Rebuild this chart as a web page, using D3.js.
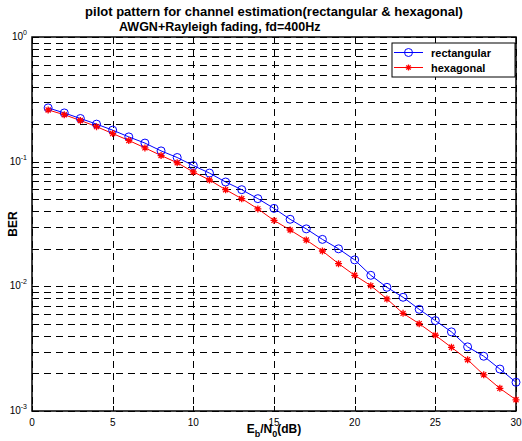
<!DOCTYPE html>
<html>
<head>
<meta charset="utf-8">
<script src="https://cdn.jsdelivr.net/npm/d3@7"></script>
<style>
  body { margin: 0; background: #fff; }
  text { font-family: Arial, "Liberation Sans", sans-serif; }
</style>
</head>
<body>
<script>
// Eb/N0 in dB
var ebno = [1, 2, 3, 4, 5, 6, 7, 8, 9, 10, 11, 12, 13, 14, 15,
  16, 17, 18, 19, 20, 21, 22, 23, 24, 25, 26, 27, 28, 29, 30]
var rectBER = [0.270, 0.246, 0.222, 0.200, 0.179, 0.158, 0.141, 0.122, 0.108, 0.093,
  0.081, 0.0687, 0.0596, 0.0505, 0.0422, 0.0345, 0.0289, 0.0238, 0.0200, 0.0163,
  0.01226, 0.00982, 0.00817, 0.00654, 0.00531, 0.00431, 0.00327, 0.00275, 0.00217, 0.00170]
var hexBER = [0.260, 0.238, 0.214, 0.191, 0.168, 0.148, 0.129, 0.112, 0.098, 0.0827,
  0.0713, 0.0596, 0.0505, 0.0418, 0.0338, 0.0283, 0.0235, 0.0192, 0.0152, 0.01226,
  0.01013, 0.00792, 0.00607, 0.00502, 0.00405, 0.00324, 0.00258, 0.00195, 0.00152, 0.00123]
var xTicks = [0, 5, 10, 15, 20, 25, 30]
var yExps = [0, -1, -2, -3]
var seriesNames = ['rectangular', 'hexagonal']

var W = 522, H = 441
var margin = { top: 37, right: 6, bottom: 30, left: 32 }
var width = W - margin.left - margin.right,
  height = H - margin.top - margin.bottom

var svg = d3.select('body').append('svg')
  .attr('width', W)
  .attr('height', H)
svg.append('rect').attr('width', W).attr('height', H).attr('fill', '#fff')

var g = svg.append('g')
  .attr('transform', 'translate(' + margin.left + ',' + margin.top + ')')

var x = d3.scaleLinear().domain([0, 30]).range([0, width])
var y = d3.scaleLog().domain([1e-3, 1]).range([height, 0])

// grid - dashed, at every log tick
var yGrid = y.ticks()
g.selectAll('.hgrid').data(yGrid).enter().append('line')
  .attr('x1', 0).attr('x2', width)
  .attr('y1', function (d) { return Math.round(y(d)) + 0.5 })
  .attr('y2', function (d) { return Math.round(y(d)) + 0.5 })
  .attr('stroke', '#000')
  .attr('stroke-dasharray', '7,5')
g.selectAll('.vgrid').data(xTicks).enter().append('line')
  .attr('y1', 0).attr('y2', height)
  .attr('x1', function (d) { return Math.round(x(d)) + 0.5 })
  .attr('x2', function (d) { return Math.round(x(d)) + 0.5 })
  .attr('stroke', '#000')
  .attr('stroke-dasharray', '7,5')

// inside tick marks
g.selectAll('.ytk').data(yGrid).enter().append('path')
  .attr('d', function (d) {
    var yy = Math.round(y(d)) + 0.5
    return 'M0,' + yy + 'h5M' + width + ',' + yy + 'h-5'
  })
  .attr('stroke', '#000')
g.selectAll('.xtk').data(xTicks).enter().append('path')
  .attr('d', function (d) {
    var xx = Math.round(x(d)) + 0.5
    return 'M' + xx + ',0v5M' + xx + ',' + height + 'v-5'
  })
  .attr('stroke', '#000')

// frame
g.append('rect')
  .attr('x', 0).attr('y', 0)
  .attr('width', width).attr('height', height)
  .attr('fill', 'none')
  .attr('stroke', '#000')
  .attr('stroke-width', 1.5)

// x tick labels
g.selectAll('.xl').data(xTicks).enter().append('text')
  .attr('x', function (d) { return x(d) })
  .attr('y', height + 15)
  .attr('text-anchor', 'middle')
  .attr('font-size', 10)
  .text(function (d) { return d })

// y tick labels 10^n
var yl = g.selectAll('.yl').data(yExps).enter().append('text')
  .attr('x', -5)
  .attr('y', function (d) { return y(Math.pow(10, d)) + 3 })
  .attr('text-anchor', 'end')
  .attr('font-size', 10)
yl.append('tspan').text('10')
yl.append('tspan')
  .attr('dy', -5)
  .attr('font-size', 7)
  .text(function (d) { return d })

// lines
var line = d3.line()
  .x(function (d) { return x(d[0]) })
  .y(function (d) { return y(d[1]) })

var rectPts = ebno.map(function (e, i) { return [e, rectBER[i]] })
var hexPts = ebno.map(function (e, i) { return [e, hexBER[i]] })

function star(cx, cy, r) {
  var d = 'M' + (cx - r) + ',' + cy + 'h' + (2 * r) +
    'M' + cx + ',' + (cy - r) + 'v' + (2 * r)
  var k = r * 0.72
  d += 'M' + (cx - k) + ',' + (cy - k) + 'l' + (2 * k) + ',' + (2 * k)
  d += 'M' + (cx - k) + ',' + (cy + k) + 'l' + (2 * k) + ',' + (-2 * k)
  return d
}

g.append('path')
  .attr('d', line(rectPts))
  .attr('fill', 'none')
  .attr('stroke', '#0000ff')
g.append('path')
  .attr('d', line(hexPts))
  .attr('fill', 'none')
  .attr('stroke', '#ff0000')

g.selectAll('.rm').data(rectPts).enter().append('circle')
  .attr('cx', function (d) { return x(d[0]) })
  .attr('cy', function (d) { return y(d[1]) })
  .attr('r', 4)
  .attr('fill', 'none')
  .attr('stroke', '#0000ff')
g.selectAll('.hm').data(hexPts).enter().append('path')
  .attr('d', function (d) { return star(x(d[0]), y(d[1]), 3.5) })
  .attr('stroke', '#ff0000')
  .attr('stroke-width', 1.3)

// titles
svg.append('text')
  .attr('x', margin.left + width / 2)
  .attr('y', 16)
  .attr('text-anchor', 'middle')
  .attr('font-size', 13)
  .attr('font-weight', 'bold')
  .text('pilot pattern for channel estimation(rectangular & hexagonal)')
svg.append('text')
  .attr('x', 119)
  .attr('y', 31)
  .attr('font-size', 12.5)
  .attr('font-weight', 'bold')
  .text('AWGN+Rayleigh fading, fd=400Hz')

// x label
var xlab = svg.append('text')
  .attr('x', margin.left + width / 2)
  .attr('y', 433)
  .attr('text-anchor', 'middle')
  .attr('font-size', 12)
  .attr('font-weight', 'bold')
xlab.append('tspan').text('E')
xlab.append('tspan').attr('dy', 4).attr('font-size', 9).text('b')
xlab.append('tspan').attr('dy', -4).text('/N')
xlab.append('tspan').attr('dy', 4).attr('font-size', 9).text('0')
xlab.append('tspan').attr('dy', -4).text('(dB)')

// y label
svg.append('text')
  .attr('transform', 'translate(17,' + (margin.top + height / 2) + ') rotate(-90)')
  .attr('text-anchor', 'middle')
  .attr('font-size', 12)
  .attr('font-weight', 'bold')
  .text('BER')

// legend
var lg = svg.append('g').attr('transform', 'translate(392,43)')
lg.append('rect')
  .attr('width', 123).attr('height', 34)
  .attr('fill', '#fff')
  .attr('stroke', '#000')
var colors = ['#0000ff', '#ff0000']
seriesNames.forEach(function (name, i) {
  var ly = 9.5 + i * 15
  lg.append('line')
    .attr('x1', 2).attr('x2', 31)
    .attr('y1', ly).attr('y2', ly)
    .attr('stroke', colors[i])
  if (i == 0) {
    lg.append('circle')
      .attr('cx', 16.5).attr('cy', ly).attr('r', 4)
      .attr('fill', 'none').attr('stroke', colors[i])
  } else {
    lg.append('path')
      .attr('d', star(16.5, ly, 3))
      .attr('stroke', colors[i])
      .attr('stroke-width', 1.3)
  }
  lg.append('text')
    .attr('x', 39).attr('y', ly + 4)
    .attr('font-size', 11)
    .attr('font-weight', 'bold')
    .text(name)
})
</script>
</body>
</html>
